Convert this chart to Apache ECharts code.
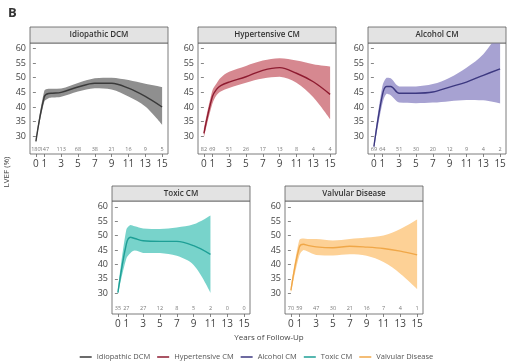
<!DOCTYPE html>
<html>
<head>
<meta charset="utf-8">
<script src="https://cdn.jsdelivr.net/npm/echarts@6/dist/echarts.min.js"></script>
<style>html,body{margin:0;padding:0;background:#fff;}#c{width:513px;height:363px;}</style>
</head>
<body>
<div id="c"></div>
<script>
// ---------- data ----------
const panelTitles = ['Idiopathic DCM', 'Hypertensive CM', 'Alcohol CM', 'Toxic CM', 'Valvular Disease'];
const years = [0, 1, 1.5, 2, 3, 5, 7, 9, 11, 13, 15];
const toxicYears = [0, 1, 1.5, 2, 3, 5, 7, 9, 11];

const idiopathicFit   = [28.3, 43.5, 44.6, 44.7, 45.0, 46.8, 48.1, 48.1, 46.4, 43.6, 40.0];
const idiopathicUpper = [29.0, 45.5, 46.2, 46.2, 46.3, 48.2, 49.8, 50.0, 49.2, 47.9, 46.8];
const idiopathicLower = [27.7, 41.8, 43.0, 43.2, 43.5, 45.3, 46.4, 46.0, 43.6, 40.2, 34.0];

const hypertensiveFit   = [31.0, 43.5, 46.0, 47.3, 48.5, 50.3, 52.5, 53.4, 51.5, 48.6, 44.3];
const hypertensiveUpper = [32.5, 45.5, 48.0, 50.0, 52.0, 54.0, 55.8, 56.6, 55.8, 54.6, 53.8];
const hypertensiveLower = [29.5, 41.0, 44.0, 45.3, 46.5, 48.3, 49.7, 50.3, 48.3, 43.3, 35.8];

const alcoholFit   = [26.5, 44.0, 47.0, 47.0, 44.7, 44.7, 45.1, 46.8, 48.5, 50.8, 53.0];
const alcoholUpper = [27.5, 47.0, 50.0, 49.8, 47.0, 47.0, 47.8, 50.0, 53.4, 58.0, 66.0];
const alcoholLower = [25.5, 41.0, 44.5, 44.0, 41.5, 41.3, 41.5, 42.0, 42.4, 42.3, 41.2];

const toxicFit   = [30.2, 47.0, 49.4, 49.0, 48.2, 48.0, 48.0, 46.5, 43.5];
const toxicUpper = [31.0, 52.0, 53.7, 53.2, 52.5, 52.3, 52.8, 53.9, 57.0];
const toxicLower = [29.5, 42.0, 44.0, 44.8, 44.0, 44.0, 43.0, 39.8, 30.2];

const valvularFit   = [31.0, 46.0, 47.0, 46.6, 46.1, 45.8, 46.3, 46.0, 45.5, 44.6, 43.3];
const valvularUpper = [32.0, 48.5, 49.0, 48.8, 48.8, 48.3, 48.8, 49.3, 50.0, 52.3, 55.6];
const valvularLower = [30.0, 43.0, 45.0, 44.5, 43.3, 43.1, 43.5, 43.0, 40.8, 36.8, 31.5];

const riskYears = [0, 1, 3, 5, 7, 9, 11, 13, 15];
const idiopathicRisk   = [180, 147, 113, 68, 38, 21, 16, 9, 5];
const hypertensiveRisk = [82, 69, 51, 26, 17, 13, 8, 4, 4];
const alcoholRisk      = [69, 64, 51, 30, 20, 12, 9, 4, 2];
const toxicRisk        = [35, 27, 27, 12, 8, 5, 2, 0, 0];
const valvularRisk     = [70, 59, 47, 30, 21, 16, 7, 4, 1];

const xTickLabels = [0, 1, 3, 5, 7, 9, 11, 13, 15];
const yTickLabels = [30, 35, 40, 45, 50, 55, 60];

// ---------- layout / style ----------
const FONT = '"Open Sans", "Noto Sans", sans-serif';
const SMOOTH = 0.35;
const panels = [
  {x: years,      fit: idiopathicFit,   up: idiopathicUpper,   lo: idiopathicLower,   risk: idiopathicRisk,   line: '#3a3a3a', band: '#8f8f8f', left: 30,  top: 43,  h: 111, ymin: 24,   ymax: 61.8, riskY: 25.7},
  {x: years,      fit: hypertensiveFit, up: hypertensiveUpper, lo: hypertensiveLower, risk: hypertensiveRisk, line: '#8e1b30', band: '#d68890', left: 198, top: 43,  h: 111, ymin: 24,   ymax: 61.8, riskY: 25.7},
  {x: years,      fit: alcoholFit,      up: alcoholUpper,      lo: alcoholLower,      risk: alcoholRisk,      line: '#3c3880', band: '#a7a2d2', left: 368, top: 43,  h: 111, ymin: 24,   ymax: 61.8, riskY: 25.7},
  {x: toxicYears, fit: toxicFit,        up: toxicUpper,        lo: toxicLower,        risk: toxicRisk,        line: '#1e9f96', band: '#78d3cb', left: 112, top: 201, h: 113, ymin: 22.8, ymax: 62,   riskY: 24.9},
  {x: years,      fit: valvularFit,     up: valvularUpper,     lo: valvularLower,     risk: valvularRisk,     line: '#f0a748', band: '#fdd196', left: 285, top: 201, h: 113, ymin: 22.8, ymax: 62,   riskY: 24.9}
];
const W = 138;

// Bezier smoothing equivalent to ECharts line smoothing, for a list of pixel points.
function smoothSegs(pts, smooth, startWithMove) {
  let d = '';
  const n = pts.length;
  let cp0x = pts[0][0], cp0y = pts[0][1];
  d += (startWithMove ? 'M' : 'L') + pts[0][0] + ' ' + pts[0][1] + ' ';
  for (let i = 1; i < n; i++) {
    const [x, y] = pts[i];
    let cp1x = x, cp1y = y, ncx = x, ncy = y;
    if (i < n - 1) {
      const [px, py] = pts[i - 1];
      const [nx, ny] = pts[i + 1];
      const vx = nx - px, vy = ny - py;
      const l0 = Math.hypot(x - px, y - py), l1 = Math.hypot(nx - x, ny - y);
      const r = l1 / (l0 + l1 || 1);
      cp1x = x - vx * smooth * (1 - r); cp1y = y - vy * smooth * (1 - r);
      ncx = x + vx * smooth * r; ncy = y + vy * smooth * r;
      cp1x = Math.min(cp1x, Math.max(px, x)); cp1x = Math.max(cp1x, Math.min(px, x));
      cp1y = Math.min(cp1y, Math.max(py, y)); cp1y = Math.max(cp1y, Math.min(py, y));
      ncx = Math.min(ncx, Math.max(nx, x)); ncx = Math.max(ncx, Math.min(nx, x));
      ncy = Math.min(ncy, Math.max(ny, y)); ncy = Math.max(ncy, Math.min(ny, y));
      // keep symmetry after clamping
      const d1 = Math.hypot(cp1x - x, cp1y - y), d2 = Math.hypot(ncx - x, ncy - y);
      void d1; void d2;
    }
    d += 'C' + cp0x + ' ' + cp0y + ' ' + cp1x + ' ' + cp1y + ' ' + x + ' ' + y + ' ';
    cp0x = ncx; cp0y = ncy;
  }
  return d;
}

const grids = [], xAxes = [], yAxes = [], series = [], graphics = [];
panels.forEach((p, i) => {
  grids.push({left: p.left, top: p.top, width: W, height: p.h, show: true, borderColor: '#5a5a5a', borderWidth: 0.8, backgroundColor: 'transparent'});
  xAxes.push({
    type: 'value', gridIndex: i, min: -0.7, max: 15.7,
    axisLine: {show: false}, splitLine: {show: false},
    axisTick: {show: true, customValues: xTickLabels, length: 3, inside: false, lineStyle: {color: '#666', width: 0.8}},
    axisLabel: {customValues: xTickLabels, fontSize: 10, color: '#444', fontFamily: FONT, margin: 5}
  });
  yAxes.push({
    type: 'value', gridIndex: i, min: p.ymin, max: p.ymax,
    axisLine: {show: false}, splitLine: {show: false},
    axisTick: {show: true, customValues: yTickLabels, length: 3, lineStyle: {color: '#666', width: 0.8}},
    axisLabel: {customValues: yTickLabels, fontSize: 9, color: '#444', fontFamily: FONT, margin: 4}
  });
  const zip = (a) => p.x.map((x, k) => [x, a[k]]);
  // confidence band (custom polygon between lower and upper)
  series.push({
    type: 'custom', xAxisIndex: i, yAxisIndex: i, silent: true, z: 2,
    data: p.x.map((x, k) => [x, p.lo[k], p.up[k]]),
    encode: {x: 0, y: [1, 2]},
    renderItem: (params, api) => {
      if (params.dataIndex !== 0) return null;
      const upPts = p.x.map((x, k) => api.coord([x, p.up[k]]));
      const loPts = p.x.map((x, k) => api.coord([x, p.lo[k]])).reverse();
      const path = smoothSegs(upPts, SMOOTH, true) + smoothSegs(loPts, SMOOTH, false) + 'Z';
      const cs = params.coordSys;
      return {
        type: 'path', shape: {pathData: path},
        style: {fill: p.band, stroke: null},
        clipPath: {type: 'rect', shape: {x: cs.x, y: cs.y, width: cs.width, height: cs.height}}
      };
    }
  });
  series.push({
    name: panelTitles[i], type: 'line', xAxisIndex: i, yAxisIndex: i, smooth: SMOOTH, symbol: 'none',
    color: p.line, lineStyle: {color: p.line, width: 1.4}, data: zip(p.fit), z: 3
  });
  series.push({
    type: 'scatter', xAxisIndex: i, yAxisIndex: i, symbolSize: 1, itemStyle: {color: 'rgba(0,0,0,0)'},
    data: riskYears.map((x, k) => [x, p.riskY, p.risk[k]]),
    label: {show: true, position: 'inside', formatter: (d) => String(d.value[2]), fontSize: 5.5, color: '#555', fontFamily: FONT},
    silent: true, z: 4
  });
  // strip header
  const hTop = i < 3 ? 27 : 186;
  graphics.push({
    type: 'rect', shape: {x: p.left, y: hTop, width: W, height: p.top - hTop},
    style: {fill: '#e3e3e3', stroke: '#5a5a5a', lineWidth: 0.8}, z: 10
  });
  graphics.push({
    type: 'text', x: p.left + W / 2, y: hTop + (p.top - hTop) / 2,
    style: {text: panelTitles[i], fill: '#333', font: '600 8px ' + FONT, textAlign: 'center', textVerticalAlign: 'middle'}, z: 11
  });
});

graphics.push({type: 'text', x: 8, y: 7, style: {text: 'B', fill: '#333', font: 'bold 13px ' + FONT}});
graphics.push({type: 'text', x: 7, y: 172, rotation: Math.PI / 2,
  style: {text: 'LVEF (%)', fill: '#444', font: '8px ' + FONT, textAlign: 'center', textVerticalAlign: 'middle'}});
graphics.push({type: 'text', x: 269, y: 338,
  style: {text: 'Years of Follow-Up', fill: '#444', font: '8px ' + FONT, textAlign: 'center', textVerticalAlign: 'middle'}});

const chart = echarts.init(document.getElementById('c'), null, {renderer: 'canvas'});
chart.setOption({
  animation: false,
  backgroundColor: '#fff',
  grid: grids, xAxis: xAxes, yAxis: yAxes, series: series,
  graphic: graphics,
  legend: {
    data: panelTitles, left: 'center', top: 348, icon: 'rect', itemWidth: 12, itemHeight: 1.5, itemGap: 7,
    textStyle: {fontSize: 7.5, color: '#555', fontFamily: FONT}
  }
});
</script>
</body>
</html>
